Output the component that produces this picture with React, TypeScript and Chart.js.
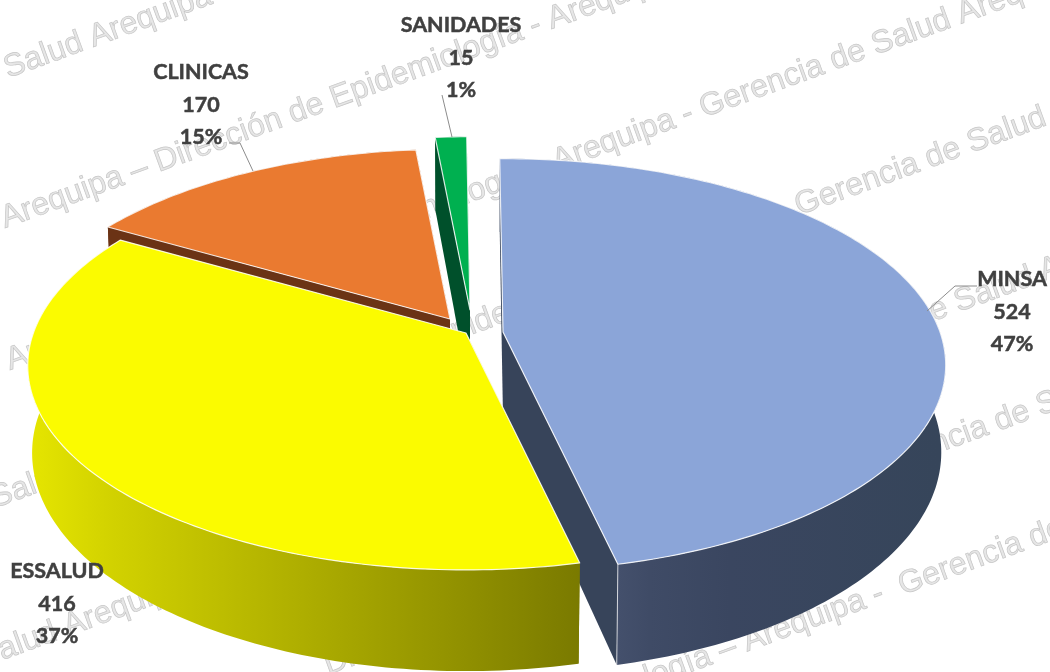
import React, { useEffect, useRef } from "react";
import { Chart, registerables } from "chart.js";

Chart.register(...registerables);

const categories = ["MINSA", "ESSALUD", "CLINICAS", "SANIDADES"];
const values = [524, 416, 170, 15];
const topColors = ["#8ba5d8", "#fbfb00", "#ea7a30", "#00b050"];
const cutColors = ["#37445a", "#7c7c00", "#6b3315", "#00502b"];
const wallStops: [number, string][][] = [
  [[0, "#44506c"], [0.1, "#3f4b66"], [0.35, "#3a4660"], [1, "#36455a"]],
  [[0, "#e6e600"], [0.15, "#d2d200"], [0.4, "#b8b800"], [0.8, "#8f8f00"], [1, "#7a7a00"]],
  [[0, "#6b3315"], [1, "#6b3315"]],
  [[0, "#00502b"], [1, "#00502b"]],
];
const explode: [number, number][] = [[23, 7], [-14, 8], [-30, -6], [-10, -15]];
const radiusScale = [1, 0.99, 0.98, 1];
const drawOrder = [3, 2, 0, 1];
const labelPos: [number, number][] = [[1012, 279], [57, 571], [201, 72], [461, 25]];
const leaders: [number, number][][] = [
  [[977, 286], [955, 286], [927, 311]],
  [],
  [[229, 143], [240, 143], [253, 171]],
  [[442, 95], [452, 137]],
];

const W1 = "Salud Arequipa";
const WP = "Arequipa – Dirección de Epidemiología - Arequipa - Gerencia de Salud Arequipa";
const WS = "Salud Arequipa –    Dirección de Epidemiología - Arequipa - Gerencia de Salud Arequipa";
const WG = "Gerencia de Salud Arequipa –    Dirección de Epidemiología - Arequipa - Gerencia de Salud Arequipa";
const watermarks: [string, number, number][] = [
  [W1, 8, 78],
  [WP, 5, 228],
  [WP, 10, 370],
  [WS, -5, 508],
  [WG, -190, 730],
  [WS, 64, 771],
  ["Epidemiología – Arequipa -  Gerencia de Salud", 523, 733],
];

const PERSP = 0.16;
const SQUASH = 0.46;
const DEPTH = 85;
const LEAN = 0.01;

type Pt = [number, number];

const piePlugin = {
  id: "pie3d",
  beforeDatasetsDraw(chart: any) {
    const ctx: CanvasRenderingContext2D = chart.ctx;
    ctx.save();
    ctx.font = "32px 'Liberation Sans'";
    ctx.textAlign = "left";
    ctx.textBaseline = "alphabetic";
    for (const [t, x, y] of watermarks) {
      ctx.save();
      ctx.translate(x, y);
      ctx.rotate((-20 * Math.PI) / 180);
      ctx.fillStyle = "#e6e6e6";
      ctx.fillText(t, 0, 0);
      ctx.strokeStyle = "#c6c6c6";
      ctx.lineWidth = 0.7;
      ctx.strokeText(t, 0, 0);
      ctx.restore();
    }
    const meta = chart.getDatasetMeta(0);
    for (const i of drawOrder) {
      const el = meta.data[i];
      const cx = el.x + explode[i][0];
      const cy = el.y + explode[i][1];
      const R = el.outerRadius * radiusScale[i];
      const top = (a: number): Pt => {
        const u = Math.cos(a), v = Math.sin(a);
        const p = 1 / (1 - PERSP * v);
        return [cx + R * u * p, cy + R * SQUASH * v * p];
      };
      const low = (a: number): Pt => {
        const v = Math.sin(a);
        const p = 1 / (1 - PERSP * v);
        const q = top(a);
        return [q[0] + (cx - q[0]) * LEAN, q[1] + DEPTH * p];
      };
      const apexTop: Pt = [cx, cy];
      const apexLow: Pt = [cx, cy + DEPTH];
      const n = Math.max(2, Math.ceil(((el.endAngle - el.startAngle) * 180) / Math.PI));
      const angs: number[] = [];
      for (let k = 0; k <= n; k++) angs.push(el.startAngle + ((el.endAngle - el.startAngle) * k) / n);
      const poly = (pts: Pt[]) => {
        ctx.beginPath();
        pts.forEach((q, k) => (k ? ctx.lineTo(q[0], q[1]) : ctx.moveTo(q[0], q[1])));
        ctx.closePath();
      };
      // cut faces
      ctx.fillStyle = cutColors[i];
      poly([top(el.startAngle), apexTop, apexLow, low(el.startAngle)]);
      ctx.fill();
      poly([top(el.endAngle), apexTop, apexLow, low(el.endAngle)]);
      ctx.fill();
      // outer wall
      const tops = angs.map(top);
      const lows = angs.map(low);
      const xs = tops.map((q) => q[0]);
      const x0 = i === 0 ? top(el.endAngle)[0] : Math.min(...xs);
      const x1 = i === 0 ? x0 + 320 : Math.max(...xs);
      const g = ctx.createLinearGradient(x0, 0, x1, 0);
      for (const [o, c] of wallStops[i]) g.addColorStop(o, c);
      ctx.fillStyle = g;
      poly([...tops, ...lows.slice().reverse()]);
      ctx.fill();
      // corner highlight
      if (i === 0) {
        const a = top(el.endAngle), b = low(el.endAngle);
        ctx.strokeStyle = "rgba(255,255,255,0.7)";
        ctx.lineWidth = 1;
        ctx.beginPath();
        ctx.moveTo(a[0], a[1]);
        ctx.lineTo(b[0], b[1]);
        ctx.stroke();
      }
      // top face
      poly([apexTop, ...tops]);
      ctx.fillStyle = el.options.backgroundColor;
      ctx.fill();
      ctx.strokeStyle = "rgba(255,255,255,0.85)";
      ctx.lineWidth = 1.2;
      ctx.lineJoin = "round";
      ctx.stroke();
    }
    ctx.restore();
    return false;
  },
  afterDraw(chart: any) {
    const ctx: CanvasRenderingContext2D = chart.ctx;
    const total = values.reduce((a, b) => a + b, 0);
    ctx.save();
    ctx.strokeStyle = "#8c8c8c";
    ctx.lineWidth = 1;
    for (const line of leaders) {
      if (!line.length) continue;
      ctx.beginPath();
      line.forEach((q, k) => (k ? ctx.lineTo(q[0], q[1]) : ctx.moveTo(q[0], q[1])));
      ctx.stroke();
    }
    ctx.font = "bold 21.5px Lato";
    ctx.textAlign = "center";
    ctx.textBaseline = "middle";
    ctx.fillStyle = "#404040";
    ctx.strokeStyle = "#404040";
    ctx.lineWidth = 0.5;
    categories.forEach((c, i) => {
      const [x, y] = labelPos[i];
      const lines = [c, String(values[i]), Math.round((values[i] / total) * 100) + "%"];
      lines.forEach((t, k) => {
        const yy = y + [0, 33, 65][k];
        ctx.fillText(t, x, yy);
        ctx.strokeText(t, x, yy);
      });
    });
    ctx.restore();
  },
};

export default function App() {
  const ref = useRef<HTMLCanvasElement>(null);
  useEffect(() => {
    document.body.style.margin = "0";
    const chart = new Chart(ref.current as HTMLCanvasElement, {
      type: "pie",
      data: {
        labels: categories,
        datasets: [{ data: values, backgroundColor: topColors, borderWidth: 0 }],
      },
      options: {
        responsive: false,
        animation: false,
        radius: 437,
        rotation: -0.5,
        layout: { padding: { left: 0, right: 90, top: 0, bottom: 22 } },
        plugins: { legend: { display: false }, tooltip: { enabled: false } },
      } as any,
      plugins: [piePlugin as any],
    });
    return () => chart.destroy();
  }, []);
  return (
    <div style={{ width: 1050, height: 672, background: "#fff", overflow: "hidden" }}>
      <canvas ref={ref} width={1050} height={672} style={{ display: "block" }} />
    </div>
  );
}
